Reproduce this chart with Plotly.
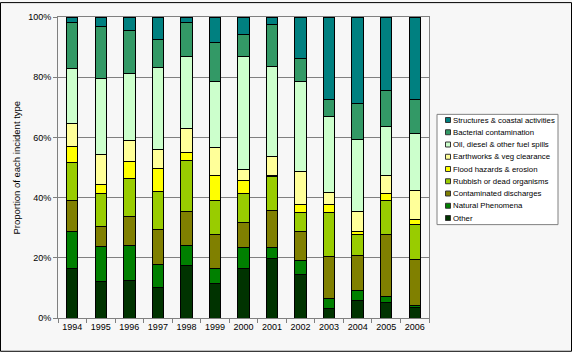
import plotly.graph_objects as go

years = ["1994", "1995", "1996", "1997", "1998", "1999", "2000",
         "2001", "2002", "2003", "2004", "2005", "2006"]

other         = [16.6, 12.0, 12.5, 10.3, 17.5, 11.5, 16.3, 19.9, 14.5, 3.2, 5.9, 5.0, 3.5]
natural       = [12.1, 11.8, 11.6, 7.4, 6.5, 5.1, 7.1, 3.6, 4.6, 3.4, 3.3, 2.0, 0.8]
contaminated  = [10.2, 6.6, 9.6, 11.6, 11.3, 11.0, 8.2, 12.1, 9.7, 13.8, 11.6, 20.6, 15.0]
rubbish       = [12.8, 10.8, 12.6, 12.7, 17.1, 11.6, 9.8, 11.3, 6.3, 14.5, 6.8, 11.3, 11.7]
flood         = [5.3, 3.3, 5.6, 7.7, 2.5, 8.0, 4.4, 0.3, 2.5, 2.7, 1.2, 2.5, 1.7]
earthworks    = [7.6, 9.9, 7.2, 6.2, 8.2, 9.3, 3.6, 6.6, 11.2, 4.1, 6.5, 5.8, 9.8]
oil           = [18.3, 25.2, 22.0, 27.3, 23.7, 22.2, 37.4, 29.9, 29.7, 25.1, 24.1, 16.5, 18.9]
bacterial     = [15.2, 17.1, 14.5, 9.4, 11.3, 12.8, 7.5, 13.9, 7.7, 5.9, 12.0, 11.8, 11.1]
structures    = [1.9, 3.3, 4.4, 7.4, 1.9, 8.5, 5.7, 2.4, 13.8, 27.3, 28.6, 24.5, 27.5]

series_names = ["Other", "Natural Phenomena", "Contaminated discharges",
                "Rubbish or dead organisms", "Flood hazards & erosion",
                "Earthworks & veg clearance", "Oil, diesel & other fuel spills",
                "Bacterial contamination", "Structures & coastal activities"]
series_values = [other, natural, contaminated, rubbish, flood, earthworks,
                 oil, bacterial, structures]
series_colors = ["#003300", "#008000", "#808000", "#99CC00", "#FFFF00",
                 "#FFFF99", "#CCFFCC", "#339966", "#008080"]

W, H = 572, 352
L, R, T, B = 58, 143, 15, 34
PW, PH = W - L - R, H - T - B

def px(x):
    return (x - L) / PW

def py(y):
    return (H - B - y) / PH

fig = go.Figure()
for name, vals, col in zip(series_names, series_values, series_colors):
    fig.add_trace(go.Bar(
        x=years, y=vals, name=name,
        marker=dict(color=col, line=dict(color="#000000", width=1)),
        width=0.4, showlegend=False,
    ))

shapes = []
annotations = []
# outer border of chart
shapes.append(dict(type="rect", xref="paper", yref="paper",
                   x0=px(0.5), x1=px(W - 0.5), y0=py(H - 0.5), y1=py(0.5),
                   line=dict(color="#000000", width=1), fillcolor="rgba(0,0,0,0)",
                   layer="above"))
# legend box
lx0, lx1, ly0, ly1 = 437, 558, 113, 224
shapes.append(dict(type="rect", xref="paper", yref="paper",
                   x0=px(lx0), x1=px(lx1), y0=py(ly1), y1=py(ly0),
                   line=dict(color="#808080", width=1), fillcolor="#ffffff"))
step = 12.33
for i, (name, col) in enumerate(zip(series_names[::-1], series_colors[::-1])):
    cy = 118.7 + i * step
    shapes.append(dict(type="rect", xref="paper", yref="paper",
                       x0=px(445.5), x1=px(450.5), y0=py(cy + 2.5), y1=py(cy - 2.5),
                       line=dict(color="#333333", width=1), fillcolor=col))
    annotations.append(dict(text=name, xref="paper", yref="paper",
                            x=px(451.0), y=py(cy), xanchor="left", yanchor="middle",
                            showarrow=False,
                            font=dict(family="Liberation Sans, Arial", size=7.8, color="#000000")))

annotations.append(dict(text="Proportion of each incident type", xref="paper", yref="paper",
                        x=px(16), y=0.5, xanchor="center", yanchor="middle",
                        textangle=-90, showarrow=False,
                        font=dict(family="Liberation Sans, Arial", size=9.5, color="#000000")))

fig.update_layout(
    width=W, height=H,
    margin=dict(l=L, r=R, t=T, b=B),
    barmode="stack", barnorm="percent",
    paper_bgcolor="#f7f7f7", plot_bgcolor="#f7f7f7",
    font=dict(family="Liberation Sans, Arial", size=9, color="#000000"),
    shapes=shapes, annotations=annotations,
    xaxis=dict(type="category", showline=True, linecolor="#808080", linewidth=1,
               mirror=True, ticks="outside", tickson="boundaries", ticklen=4,
               tickcolor="#808080", showgrid=False, tickangle=0,
               tickfont=dict(size=9, color="#000000")),
    yaxis=dict(range=[0, 100], dtick=20, ticksuffix="%", showline=True,
               linecolor="#808080", linewidth=1, mirror=True, ticks="outside",
               ticklen=4, tickcolor="#808080", showgrid=True, gridcolor="#808080",
               gridwidth=1, zeroline=False,
               tickfont=dict(size=9, color="#000000")),
)

fig.write_html("out.html")
